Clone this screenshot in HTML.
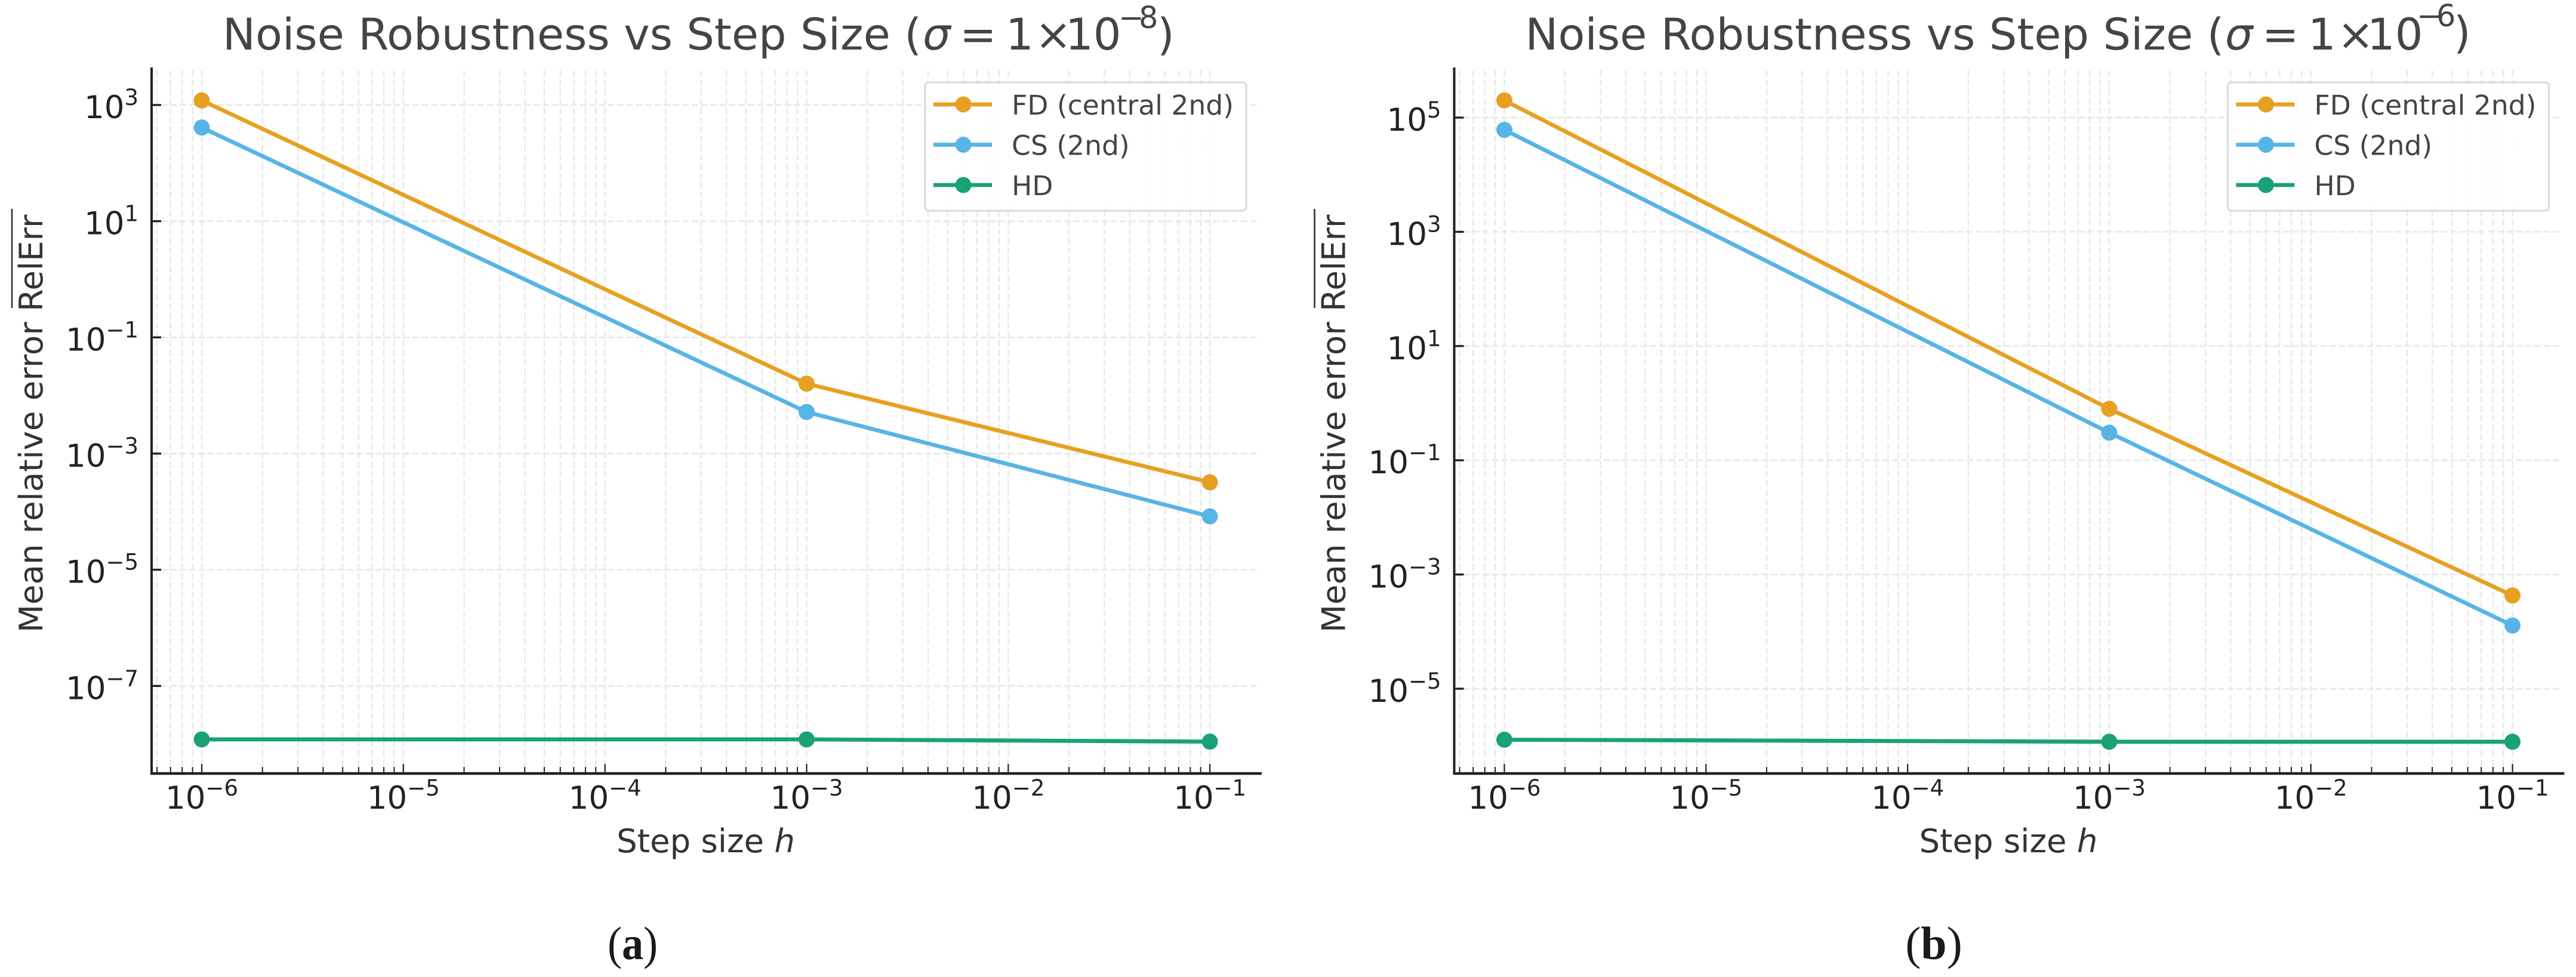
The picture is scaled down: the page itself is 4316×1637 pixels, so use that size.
<!DOCTYPE html>
<html lang="en">
<head>
<meta charset="utf-8">
<title>Noise Robustness vs Step Size</title>
<style>
html,body{margin:0;padding:0;background:#fff;}
svg{display:block;font-family:"DejaVu Sans","Liberation Sans",sans-serif;}
.title{font-size:73.5px;fill:#444;}
.axis-label{font-size:54.5px;fill:#333;}
.caption{font-family:"Liberation Serif",serif;font-size:78px;fill:#1a1a1a;}
</style>
</head>
<body>
<svg id="figure" xmlns="http://www.w3.org/2000/svg" width="4316" height="1637" viewBox="0 0 4316 1637">
  <rect width="4316" height="1637" fill="#fff"/>

  <g id="panel-a"></g>
  <g id="panel-b"></g>

  <text class="title" y="83"><tspan x="373">Noise Robustness vs Step Size (</tspan><tspan x="1546" font-style="italic">σ</tspan><tspan x="1608">=</tspan><tspan x="1685">1</tspan><tspan x="1734">×</tspan><tspan x="1785">10</tspan><tspan x="1874" y="47" font-size="51">−</tspan><tspan x="1908" y="47" font-size="51">8</tspan><tspan x="1939" y="83">)</tspan></text>
  <text class="title" y="83"><tspan x="2555.5">Noise Robustness vs Step Size (</tspan><tspan x="3728" font-style="italic">σ</tspan><tspan x="3790">=</tspan><tspan x="3867">1</tspan><tspan x="3916">×</tspan><tspan x="3966">10</tspan><tspan x="4049" y="44" font-size="51">−</tspan><tspan x="4082" y="44" font-size="51">6</tspan><tspan x="4111" y="80">)</tspan></text>

  <text class="axis-label" x="1033" y="1428" font-size="54">Step size <tspan font-style="italic">h</tspan></text>
  <text class="axis-label" x="3215.5" y="1428" font-size="54">Step size <tspan font-style="italic">h</tspan></text>

  <text class="axis-label" transform="translate(71,1060) rotate(-90)">Mean relative error RelErr</text>
  <line x1="20" y1="350" x2="20" y2="516" stroke="#333" stroke-width="2.6"/>
  <text class="axis-label" transform="translate(2253.5,1060) rotate(-90)">Mean relative error RelErr</text>
  <line x1="2202.5" y1="350" x2="2202.5" y2="516" stroke="#333" stroke-width="2.6"/>

  <text class="caption" x="1060" y="1607" text-anchor="middle" textLength="84" lengthAdjust="spacingAndGlyphs">(<tspan font-weight="bold">a</tspan>)</text>
  <text class="caption" x="3240" y="1607" text-anchor="middle">(<tspan font-weight="bold">b</tspan>)</text>
</svg>

<script>
// ---- data ----
const stepSizes = [1e-6, 1e-3, 1e-1];
const fdNoise8 = [1200, 0.016, 3.2e-4];
const csNoise8 = [410, 5.2e-3, 8.3e-5];
const hdNoise8 = [1.2e-8, 1.2e-8, 1.1e-8];
const fdNoise6 = [2.0e5, 0.796, 4.3e-4];
const csNoise6 = [6.1e4, 0.304, 1.28e-4];
const hdNoise6 = [1.28e-6, 1.18e-6, 1.18e-6];
const xTickExponents = [-6, -5, -4, -3, -2, -1];
const yTickExponents8 = [3, 1, -1, -3, -5, -7];
const yTickExponents6 = [5, 3, 1, -1, -3, -5];
const minorMultiples = [2, 3, 4, 5, 6, 7, 8, 9];
const seriesNames = ['FD (central 2nd)', 'CS (2nd)', 'HD'];

// ---- styling ----
const seriesColors = ['#E7A021', '#58B4E6', '#1BA177'];
const seriesKeys = ['fd', 'cs', 'hd'];
const NS = 'http://www.w3.org/2000/svg';
const GRID = '#e7e7e7';
const INK = '#222';

function node(parent, tag, attrs) {
  const el = document.createElementNS(NS, tag);
  for (const k in attrs) el.setAttribute(k, attrs[k]);
  parent.appendChild(el);
  return el;
}

function powerLabel(parent, x, y, anchor, exponent) {
  const t = node(parent, 'text', {x: x, y: y, 'text-anchor': anchor, 'font-size': 53, fill: INK});
  
  
  t.appendChild(document.createTextNode('10'));
  const s = node(t, 'tspan', {dy: -22, 'font-size': 37});
  
  
  s.textContent = String(exponent).replace('-', '\u2212');
}

function drawPanel(rootId, cfg) {
  const root = document.getElementById(rootId);
  const L = cfg.left, R = cfg.right, T = 118, B = 1296;
  const xScale = v => L + (Math.log10(v) - cfg.xMin) / (cfg.xMax - cfg.xMin) * (R - L);
  const yScale = v => B - (Math.log10(v) - cfg.yMin) / (cfg.yMax - cfg.yMin) * (B - 113);

  // x tick values (major + minor) within the axis range
  const minorValues = [];
  for (let e = -7; e <= -1; e++) {
    minorMultiples.forEach(m => {
      const v = m * Math.pow(10, e);
      const lg = Math.log10(v);
      if (lg >= cfg.xMin && lg <= cfg.xMax) minorValues.push(v);
    });
  }

  // grid
  minorValues.concat(xTickExponents.map(e => Math.pow(10, e))).forEach(v => {
    const gx = node(root, 'line', {x1: xScale(v), x2: xScale(v), y1: T, y2: B, stroke: GRID, 'stroke-width': 2.3, 'stroke-dasharray': '11 4.6'});
    
    
  });
  cfg.yTicks.forEach(e => {
    const gy = node(root, 'line', {x1: L, x2: R - 2, y1: yScale(Math.pow(10, e)), y2: yScale(Math.pow(10, e)), stroke: GRID, 'stroke-width': 2.6, 'stroke-dasharray': '11 4.6'});
    
    
  });

  // series
  cfg.series.forEach((values, i) => {
    const pts = values.map((v, j) => xScale(stepSizes[j]).toFixed(1) + ',' + yScale(v).toFixed(1)).join(' ');
    const line = node(root, 'polyline', {points: pts, fill: 'none', stroke: seriesColors[i], 'stroke-width': 6.8, 'stroke-linejoin': 'round'});
    
    
    values.forEach((v, j) => {
      const dot = node(root, 'circle', {cx: xScale(stepSizes[j]), cy: yScale(v), r: 13.5, fill: seriesColors[i]});
      
      
    });
  });

  // spines
  const spineY = node(root, 'line', {x1: L, x2: L, y1: 113, y2: B + 2, stroke: INK, 'stroke-width': 4});
  
  
  const spineX = node(root, 'line', {x1: L - 2, x2: R + 2, y1: B, y2: B, stroke: INK, 'stroke-width': 4.6});
  
  

  // x ticks
  minorValues.forEach(v => {
    const tk = node(root, 'line', {x1: xScale(v), x2: xScale(v), y1: B - 9 - 2, y2: B, stroke: INK, 'stroke-width': 2});
    
    
  });
  xTickExponents.forEach(e => {
    const v = Math.pow(10, e);
    const tk = node(root, 'line', {x1: xScale(v), x2: xScale(v), y1: B - 16, y2: B, stroke: INK, 'stroke-width': 2.2});
    
    
    powerLabel(root, xScale(v), 1355, 'middle', e);
  });

  // y ticks
  cfg.yTicks.forEach(e => {
    const v = Math.pow(10, e);
    const tk = node(root, 'line', {x1: L, x2: L + 16, y1: yScale(v), y2: yScale(v), stroke: INK, 'stroke-width': 3.4});
    
    
    powerLabel(root, L - 22, yScale(v) + 22, 'end', e);
  });

  // legend
  const lx = cfg.legendX;
  const box = node(root, 'rect', {x: lx, y: 138, width: 538, height: 215, rx: 6, fill: 'rgba(255,255,255,0.92)', stroke: '#dedede', 'stroke-width': 3.6});
  
  
  seriesNames.forEach((name, i) => {
    const ly = 175 + i * 67.5;
    const entry = node(root, 'g', {});
    
    
    const sw = node(entry, 'line', {x1: lx + 14, x2: lx + 112, y1: ly, y2: ly, stroke: seriesColors[i], 'stroke-width': 6.8});
    
    
    const dot = node(entry, 'circle', {cx: lx + 64, cy: ly, r: 13.5, fill: seriesColors[i]});
    
    
    const label = node(entry, 'text', {x: lx + 145, y: ly + 17, 'font-size': 45.6, fill: '#444'});
    
    
    label.textContent = name;
  });
}

drawPanel('panel-a', {
  left: 254, right: 2112, xMin: -6.2487, xMax: -0.7487,
  yMin: -8.507, yMax: 3.647,
  yTicks: yTickExponents8, series: [fdNoise8, csNoise8, hdNoise8], legendX: 1550
});
drawPanel('panel-b', {
  left: 2436.5, right: 4294.5, xMin: -6.2487, xMax: -0.7487,
  yMin: -6.484, yMax: 5.878,
  yTicks: yTickExponents6, series: [fdNoise6, csNoise6, hdNoise6], legendX: 3732.5
});
</script>
</body>
</html>
